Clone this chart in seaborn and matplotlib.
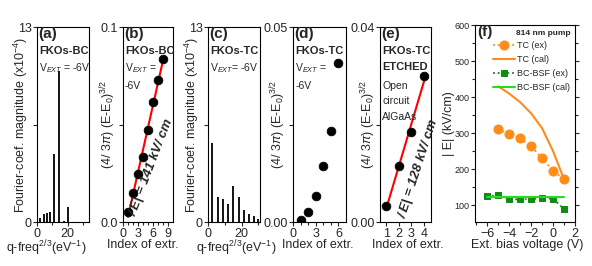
import numpy as np
import pandas as pd
import seaborn as sns
import matplotlib.pyplot as plt

# (a) Fourier spectrum, FKOs-BC
freq_a = [0.0, 2.2, 4.9, 6.7, 8.4, 11.1, 14.4, 17.8, 20.4]
mag_a = [2.8, 0.3, 0.55, 0.6, 0.65, 4.55, 10.1, 0.1, 1.0]

# (b) extrema index vs (4/3pi)(E-E0)^3/2, FKOs-BC
idx_b = [1, 2, 3, 4, 5, 6, 7, 8]
val_b = [0.0052, 0.0147, 0.0245, 0.0333, 0.047, 0.0616, 0.073, 0.0834]

# (c) Fourier spectrum, FKOs-TC
freq_c = [2.6, 6.0, 9.0, 12.0, 15.0, 18.2, 21.3, 24.4, 27.4, 30.0]
mag_c = [5.3, 1.7, 1.55, 1.2, 2.4, 1.7, 0.8, 0.55, 0.4, 0.2]

# (d) extrema, FKOs-TC
idx_d = [1, 2, 3, 4, 5, 6]
val_d = [0.0005, 0.0025, 0.0067, 0.0145, 0.0233, 0.0407]

# (e) extrema, FKOs-TC etched
idx_e = [1, 2, 3, 4]
val_e = [0.0033, 0.0116, 0.0185, 0.030]

# (f) field vs bias
bias_ex = [-5, -4, -3, -2, -1, 0, 1]
tc_ex = [311, 297, 286, 264, 230, 195, 172]
bias_cal = [-5, -4, -3, -2, -1, 0, 1]
tc_cal = [430, 410, 386, 355, 314, 250, 172]
bias_bc = [-6, -5, -4, -3, -2, -1, 0, 1]
bc_ex = [125, 127, 117, 116, 117, 119, 118, 89]
bc_cal_x = [-6, 1]
bc_cal = [122, 122]

sns.set_style('ticks')
plt.rcParams['font.family'] = ['Liberation Sans', 'DejaVu Sans']
plt.rcParams['mathtext.fontset'] = 'custom'
plt.rcParams['mathtext.rm'] = 'Liberation Sans'
plt.rcParams['mathtext.it'] = 'Liberation Sans:italic'
plt.rcParams['axes.linewidth'] = 0.8

fig = plt.figure(figsize=(5.92, 2.66), dpi=100)
bot, hgt = 0.165, 0.733
ax_a = fig.add_axes([0.0625, bot, 0.0878, hgt])
ax_b = fig.add_axes([0.2078, bot, 0.0845, hgt])
ax_c = fig.add_axes([0.3514, bot, 0.0878, hgt])
ax_d = fig.add_axes([0.4949, bot, 0.0895, hgt])
ax_e = fig.add_axes([0.6419, bot, 0.0861, hgt])
ax_f = fig.add_axes([0.8024, bot, 0.1689, 0.741])

fs = 9
ylab_idx = r'(4/ 3$\pi$) (E-E$_0$)$^{3/2}$'
ylab_four = r'Fourier-coef. magnitude (x10$^{-4}$)'
xlab_q = r'q-freq$^{2/3}$(eV$^{-1}$)'


def box(ax):
    for s in ax.spines.values():
        s.set_visible(True)
        s.set_color('black')
    ax.tick_params(direction='out', length=3, width=0.8, labelsize=fs, pad=1)
    ax.tick_params(which='minor', direction='out', length=2, width=0.8)


def labels(ax, lines):
    # lines: list of (text, y, size, weight)
    for t, y, s, w in lines:
        ax.text(0.04, y, t, transform=ax.transAxes, fontsize=s, fontweight=w,
                ha='left', va='center')


def axis_text(ax, xlab, xpos, ylab, ypos):
    ax.set_xlabel(xlab, fontsize=fs)
    ax.set_ylabel(ylab, fontsize=fs)
    ax.xaxis.set_label_coords(xpos, -0.085)
    ax.yaxis.set_label_coords(ypos, 0.5)


# ---- (a)
ax_a.vlines(freq_a, 0, mag_a, color='black', lw=1.3)
ax_a.set_xlim(0, 34)
ax_a.set_ylim(0, 13)
ax_a.set_yticks([0, 6.5, 13], ['0', '', '13'])
ax_a.set_xticks([0, 20])
ax_a.set_xticks([10, 30], minor=True)
axis_text(ax_a, xlab_q, 0.17, ylab_four, -0.14)
box(ax_a)
ax_a.text(0.02, 1.0, '(a)', transform=ax_a.transAxes, fontsize=11, fontweight='bold', va='top')
labels(ax_a, [('FKOs-BC', 0.88, 8, 'bold'), (r'V$_{EXT}$ = -6V', 0.79, 7.5, 'normal')])

# ---- (b)
df_b = pd.DataFrame({'idx': idx_b, 'val': val_b})
sns.regplot(data=df_b, x='idx', y='val', scatter=False, ci=None, color='red',
            line_kws={'lw': 1.5}, ax=ax_b)
sns.scatterplot(data=df_b, x='idx', y='val', color='black', s=40, edgecolor='black', ax=ax_b, zorder=3)
ax_b.set_xlim(0, 10)
ax_b.set_ylim(0, 0.1)
ax_b.set_yticks([0, 0.05, 0.1], ['0.0', '', '0.1'])
ax_b.set_xticks([0, 3, 6, 9])
ax_b.set_xticks([1, 2, 4, 5, 7, 8], minor=True)
axis_text(ax_b, 'Index of extr.', 0.4, ylab_idx, -0.11)
box(ax_b)
ax_b.text(0.02, 1.0, '(b)', transform=ax_b.transAxes, fontsize=11, fontweight='bold', va='top')
labels(ax_b, [('FKOs-BC', 0.88, 8, 'bold'), (r'V$_{EXT}$ =', 0.79, 7.5, 'normal'),
              ('-6V', 0.70, 7.5, 'normal')])
ax_b.text(0.56, 0.28, '/ E| = 141 kV/ cm', transform=ax_b.transAxes, rotation=69,
          fontsize=9.5, fontweight='bold', fontstyle='italic', ha='center', va='center')

# ---- (c)
ax_c.vlines(freq_c, 0, mag_c, color='black', lw=1.3)
ax_c.set_xlim(0, 31)
ax_c.set_ylim(0, 13)
ax_c.set_yticks([0, 6.5, 13], ['0', '', '13'])
ax_c.set_xticks([0, 20])
ax_c.set_xticks([10, 30], minor=True)
axis_text(ax_c, xlab_q, 0.54, ylab_four, -0.14)
box(ax_c)
ax_c.text(0.02, 1.0, '(c)', transform=ax_c.transAxes, fontsize=11, fontweight='bold', va='top')
labels(ax_c, [('FKOs-TC', 0.88, 8, 'bold'), (r'V$_{EXT}$= -6V', 0.79, 7.5, 'normal')])

# ---- (d)
df_d = pd.DataFrame({'idx': idx_d, 'val': val_d})
sns.scatterplot(data=df_d, x='idx', y='val', color='black', s=40, edgecolor='black', ax=ax_d, zorder=3)
ax_d.set_xlim(0, 7)
ax_d.set_ylim(0, 0.05)
ax_d.set_yticks([0, 0.025, 0.05], ['0.00', '', '0.05'])
ax_d.set_xticks([0, 3, 6])
ax_d.set_xticks([1, 2, 4, 5], minor=True)
axis_text(ax_d, 'Index of extr.', 0.47, ylab_idx, -0.09)
box(ax_d)
ax_d.text(0.02, 1.0, '(d)', transform=ax_d.transAxes, fontsize=11, fontweight='bold', va='top')
labels(ax_d, [('FKOs-TC', 0.88, 8, 'bold'), (r'V$_{EXT}$ =', 0.79, 7.5, 'normal'),
              ('-6V', 0.70, 7.5, 'normal')])

# ---- (e)
df_e = pd.DataFrame({'idx': idx_e, 'val': val_e})
sns.regplot(data=df_e, x='idx', y='val', scatter=False, ci=None, color='red',
            line_kws={'lw': 1.5}, ax=ax_e)
sns.scatterplot(data=df_e, x='idx', y='val', color='black', s=40, edgecolor='black', ax=ax_e, zorder=3)
ax_e.set_xlim(0.5, 4.55)
ax_e.set_ylim(0, 0.04)
ax_e.set_yticks([0, 0.02, 0.04], ['0.00', '', '0.04'])
ax_e.set_xticks([1, 2, 3, 4])
axis_text(ax_e, 'Index of extr.', 0.55, ylab_idx, -0.04)
box(ax_e)
ax_e.text(0.02, 1.0, '(e)', transform=ax_e.transAxes, fontsize=11, fontweight='bold', va='top')
labels(ax_e, [('FKOs-TC', 0.88, 8, 'bold'), ('ETCHED', 0.795, 8, 'bold'),
              ('Open', 0.70, 7.5, 'normal'), ('circuit', 0.62, 7.5, 'normal'),
              ('AlGaAs', 0.54, 7.5, 'normal')])
ax_e.text(0.76, 0.27, '/ E| = 128 kV/ cm', transform=ax_e.transAxes, rotation=72,
          fontsize=9.5, fontweight='bold', fontstyle='italic', ha='center', va='center')

# ---- (f)
orange = '#FF8C1A'
sns.lineplot(x=bias_ex, y=tc_ex, ax=ax_f, color=orange, marker='o', markersize=6.5,
             markeredgecolor=orange, linestyle=':', lw=1.3, label='TC (ex)')
sns.lineplot(x=bias_cal, y=tc_cal, ax=ax_f, color=orange, lw=1.5, label='TC (cal)')
sns.lineplot(x=bias_bc, y=bc_ex, ax=ax_f, color='#138A13', marker='s', markersize=5,
             markeredgecolor='#138A13', linestyle=':', lw=1.3, label='BC-BSF (ex)')
sns.lineplot(x=bc_cal_x, y=bc_cal, ax=ax_f, color='#22DD22', lw=1.5, label='BC-BSF (cal)')
ax_f.set_xlim(-7.1, 2)
ax_f.set_ylim(53, 600)
ax_f.set_xticks([-6, -4, -2, 0, 2])
ax_f.set_xticks([-7, -5, -3, -1, 1], minor=True)
ax_f.set_yticks([100, 200, 300, 400, 500, 600])
ax_f.set_yticks([150, 250, 350, 450, 550], minor=True)
box(ax_f)
ax_f.tick_params(axis='y', labelsize=6.5, right=True, which='both')
ax_f.tick_params(axis='x', labelsize=9)
axis_text(ax_f, 'Ext. bias voltage (V)', 0.52, '| E| (kV/cm)', -0.2)
ax_f.text(0.02, 1.0, '(f)', transform=ax_f.transAxes, fontsize=11, fontweight='bold', va='top')
leg = ax_f.legend(loc='upper right', frameon=False, fontsize=6.5, title='814 nm pump',
                  title_fontproperties={'weight': 'bold', 'size': 6}, handlelength=2.4,
                  borderaxespad=0.1, labelspacing=0.55, handletextpad=0.3)
leg._legend_box.align = 'right'

fig.savefig('out.png', dpi=100)
